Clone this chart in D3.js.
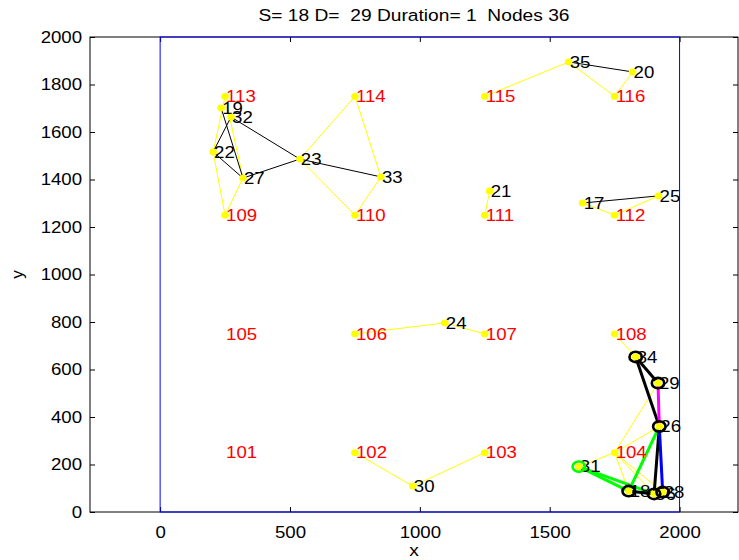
<!DOCTYPE html>
<html>
<head>
<meta charset="utf-8">
<script src="https://cdnjs.cloudflare.com/ajax/libs/d3/7.8.5/d3.min.js"></script>
<style>
  body { margin: 0; background: #fff; }
  svg { display: block; font-family: "Liberation Sans", Arial, sans-serif; }
  text { white-space: pre; }
</style>
</head>
<body>
<svg id="chart" width="739" height="560"></svg>
<script>
// title and axis setup
const titleText = 'S= 18 D=  29 Duration= 1  Nodes 36';
const xLim = [-270, 2225];
const yLim = [0, 2000];
const xTicks = [0, 500, 1000, 1500, 2000];
const yTicks = [0, 200, 400, 600, 800, 1000, 1200, 1400, 1600, 1800, 2000];
const area = [0, 0, 2000, 2000]; // blue boundary of the field

// fixed grid nodes: [id, x, y]
const gridNodes = [
  [101, 250, 250], [102, 750, 250], [103, 1250, 250], [104, 1750, 250],
  [105, 250, 750], [106, 750, 750], [107, 1250, 750], [108, 1750, 750],
  [109, 250, 1250], [110, 750, 1250], [111, 1250, 1250], [112, 1750, 1250],
  [113, 250, 1750], [114, 750, 1750], [115, 1250, 1750], [116, 1750, 1750]
];

// mobile nodes: [id, x, y]
const mobileNodes = [
  [17, 1627, 1301], [18, 1804, 88], [19, 235, 1701], [20, 1819, 1853],
  [21, 1269, 1352], [22, 204, 1516], [23, 538, 1486], [24, 1096, 796],
  [25, 1919, 1331], [26, 1922, 360], [27, 319, 1406], [28, 1935, 84],
  [29, 1917, 543], [30, 973, 109], [31, 1612, 191], [32, 273, 1663],
  [33, 850, 1411], [34, 1831, 653], [35, 1573, 1895], [36, 1902, 76]
];

// links to grid nodes (thin yellow)
const gridLinks = [
  [113, 22], [113, 27], [22, 109], [27, 109],
  [23, 114], [23, 110], [114, 33], [33, 110],
  [35, 115], [35, 116], [116, 20], [17, 112], [112, 25], [21, 111],
  [106, 24], [24, 107], [102, 30], [30, 103], [108, 34],
  [104, 29], [104, 26], [104, 31], [104, 18], [104, 36], [104, 28]
];

// links between mobile nodes (thin black)
const nodeLinks = [
  [19, 27], [32, 22], [22, 27], [32, 23], [23, 27], [23, 33],
  [35, 20], [17, 25]
];

// routes from S to D
const routeBlack = [[34, 29], [34, 26], [26, 36], [18, 36]];
const routeGreen = [[31, 18], [31, 36], [18, 26]];
const routeBlue = [[26, 28]];
const routeMagenta = [[29, 26]];
const circledBlack = [34, 29, 26, 18, 36, 28];
const circledGreen = [31];

const svg = d3.select('#chart');
const stretch = 'scale(1.13,1)';

const x = d3.scaleLinear().domain(xLim).range([90, 738]);
const y = d3.scaleLinear().domain(yLim).range([512, 37]);

// node lookup
const nodeMap = new Map();
gridNodes.forEach(d => nodeMap.set(d[0], {id: d[0], x: d[1], y: d[2], grid: true}));
mobileNodes.forEach(d => nodeMap.set(d[0], {id: d[0], x: d[1], y: d[2], grid: false}));

// axes box and ticks
const axisFont = g => {
  g.select('.domain').remove();
  g.selectAll('line').attr('stroke', '#000');
  g.selectAll('text').attr('font-size', 16.5).attr('fill', '#000')
    .attr('font-family', '"Liberation Sans", Arial, sans-serif')
    .attr('transform', stretch);
};

svg.append('g')
  .attr('transform', 'translate(0,512)')
  .call(d3.axisBottom(x).tickValues(xTicks).tickFormat(d => d).tickSize(-5).tickPadding(14))
  .call(axisFont);
svg.append('g')
  .attr('transform', 'translate(0,37)')
  .call(d3.axisTop(x).tickValues(xTicks).tickFormat('').tickSize(-5))
  .call(axisFont);
svg.append('g')
  .attr('transform', 'translate(90,0)')
  .call(d3.axisLeft(y).tickValues(yTicks).tickFormat(d => d).tickSize(-5).tickPadding(7))
  .call(axisFont);
svg.append('g')
  .attr('transform', 'translate(738,0)')
  .call(d3.axisRight(y).tickValues(yTicks).tickFormat('').tickSize(-5))
  .call(axisFont);

svg.append('rect')
  .attr('x', x(xLim[0])).attr('y', y(yLim[1]))
  .attr('width', x(xLim[1]) - x(xLim[0]))
  .attr('height', y(yLim[0]) - y(yLim[1]))
  .attr('fill', 'none').attr('stroke', '#000').attr('stroke-width', 1);

// blue field boundary
svg.append('rect')
  .attr('x', x(area[0])).attr('y', y(area[3]))
  .attr('width', x(area[2]) - x(area[0]))
  .attr('height', y(area[1]) - y(area[3]))
  .attr('fill', 'none').attr('stroke', '#0000ff').attr('stroke-width', 1);

// title and axis labels
svg.append('text')
  .attr('transform', `translate(${(x(xLim[0]) + x(xLim[1])) / 2},21) ${stretch}`)
  .attr('text-anchor', 'middle').attr('font-size', 17)
  .text(titleText);
svg.append('text')
  .attr('transform', `translate(${(x(xLim[0]) + x(xLim[1])) / 2},556) ${stretch}`)
  .attr('text-anchor', 'middle').attr('font-size', 17)
  .text('x');
svg.append('text')
  .attr('transform', `translate(23,${(y(yLim[0]) + y(yLim[1])) / 2}) rotate(-90)`)
  .attr('text-anchor', 'middle').attr('font-size', 17)
  .text('y');

// edges
const drawLinks = (links, color, width) => {
  svg.append('g').selectAll('line')
    .data(links)
    .enter()
    .append('line')
    .attr('x1', d => x(nodeMap.get(d[0]).x))
    .attr('y1', d => y(nodeMap.get(d[0]).y))
    .attr('x2', d => x(nodeMap.get(d[1]).x))
    .attr('y2', d => y(nodeMap.get(d[1]).y))
    .attr('stroke', color)
    .attr('stroke-width', width);
};
drawLinks(gridLinks, '#ffff00', 1);
drawLinks(nodeLinks, '#000000', 1);
drawLinks(routeGreen, '#00ff00', 3);
drawLinks(routeBlack, '#000000', 3);
drawLinks(routeBlue, '#0000ff', 3);
drawLinks(routeMagenta, '#ff00ff', 3);

// labels
svg.append('g').selectAll('text')
  .data(Array.from(nodeMap.values()))
  .enter()
  .append('text')
  .attr('transform', d => `translate(${x(d.x) + 1},${y(d.y)}) ${stretch}`)
  .attr('dy', '0.35em')
  .attr('font-size', 16.5)
  .attr('fill', d => d.grid ? '#ff0000' : '#000000')
  .text(d => d.id);

// yellow dots on mobile nodes and linked grid nodes
const linked = new Set();
[gridLinks, nodeLinks, routeBlack, routeGreen, routeBlue, routeMagenta]
  .forEach(list => list.forEach(e => { linked.add(e[0]); linked.add(e[1]); }));
svg.append('g').selectAll('ellipse')
  .data(Array.from(nodeMap.values()).filter(d => !d.grid || linked.has(d.id)))
  .enter()
  .append('ellipse')
  .attr('cx', d => x(d.x))
  .attr('cy', d => y(d.y))
  .attr('rx', 3.8).attr('ry', 3.4)
  .attr('fill', '#ffff00');

// route circles
const drawRings = (ids, color) => {
  svg.append('g').selectAll('ellipse')
    .data(ids.map(id => nodeMap.get(id)))
    .enter()
    .append('ellipse')
    .attr('cx', d => x(d.x))
    .attr('cy', d => y(d.y))
    .attr('rx', 6.2).attr('ry', 5.2)
    .attr('fill', 'none')
    .attr('stroke', color)
    .attr('stroke-width', 2.6);
};
drawRings(circledBlack, '#000000');
drawRings(circledGreen, '#00ff00');
</script>
</body>
</html>
